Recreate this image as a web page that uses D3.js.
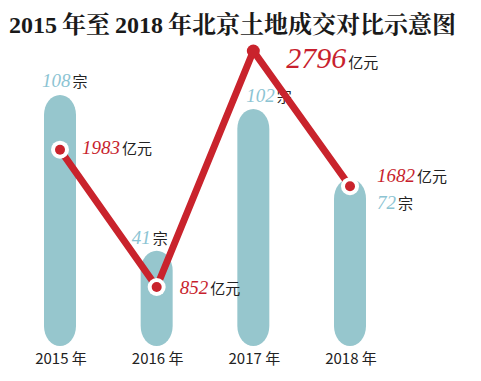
<!DOCTYPE html>
<html><head><meta charset="utf-8">
<script src="https://cdn.jsdelivr.net/npm/d3@7"></script>
<style>body{margin:0;background:#fff}svg{display:block}</style>
</head><body>
<svg id="c" width="481" height="381"></svg>
<script>
const years = ["2015", "2016", "2017", "2018"];
const yearLabels = ["2015 年", "2016 年", "2017 年", "2018 年"];
const counts = [108, 41, 102, 72];          // 宗
const amounts = [1983, 852, 2796, 1682];    // 亿元
const title = "2015年至2018年北京土地成交对比示意图";

// label placement (layout only)
const countOff = [[-18, -8], [-25, -7], [-7, -7], [27, 30]];
const amtOff = [[22, 4], [23, 7], [33, 17], [27, -4]];
const amtSize = [19, 19, 30, 19];

const svg = d3.select("#c");
const x = d3.scalePoint().domain(years).range([60, 350]);
const yc = d3.scaleLinear().domain([0, 108]).range([346, 95]);
const ya = d3.scaleLinear().domain([852, 2796]).range([287, 51]);
const barW = 32, base = 346;
const serif = "'Liberation Serif','DejaVu Serif',serif";
const cjk = "'Noto Sans CJK SC','Noto Sans',sans-serif";
const blue = "#96c6cd", red = "#c9232c";

// title
const t = svg.append("text").attr("x", 9).attr("y", 33)
  .attr("font-weight", "bold").attr("font-size", 24).attr("fill", "#1a1a1a");
title.split(/(\d+)/).filter(s => s).forEach((s, k) => {
  const isNum = /\d/.test(s);
  t.append("tspan").text(s)
   .attr("font-family", isNum ? serif : "'Noto Serif CJK SC','Noto Sans CJK SC',serif")
   .attr("dx", k === 0 ? 0 : 5);
});

// bars (pill shapes)
svg.append("g").selectAll("rect").data(years).join("rect")
  .attr("x", d => x(d) - barW / 2)
  .attr("y", (d, i) => yc(counts[i]))
  .attr("width", barW)
  .attr("height", (d, i) => base - yc(counts[i]))
  .attr("rx", barW / 2).attr("ry", 20)
  .attr("fill", blue);

// year labels
svg.append("g").selectAll("text").data(years).join("text")
  .attr("x", d => x(d) + 1).attr("y", 364)
  .attr("text-anchor", "middle")
  .attr("font-family", cjk).attr("font-size", 15).attr("fill", "#222")
  .text((d, i) => yearLabels[i]);

// count labels
const cl = svg.append("g").selectAll("text").data(years).join("text")
  .attr("x", (d, i) => x(d) + countOff[i][0])
  .attr("y", (d, i) => yc(counts[i]) + countOff[i][1]);
cl.append("tspan").text((d, i) => counts[i])
  .attr("font-family", serif).attr("font-style", "italic").attr("font-size", 19).attr("fill", "#8cc4d3");
cl.append("tspan").text("宗").attr("dx", 2)
  .attr("font-family", cjk).attr("font-size", 15).attr("fill", "#222");

// line
const line = d3.line().x(d => x(d)).y((d, i) => ya(amounts[i]));
svg.append("path").datum(years).attr("d", line)
  .attr("fill", "none").attr("stroke", red).attr("stroke-width", 7)
  .attr("stroke-linejoin", "round");

// markers
const mk = svg.append("g").selectAll("g").data(years).join("g")
  .attr("transform", (d, i) => `translate(${x(d)},${ya(amounts[i])})`);
mk.filter((d, i) => i !== 2).append("circle").attr("r", 9).attr("fill", "#fff");
mk.append("circle").attr("r", (d, i) => i === 2 ? 6.5 : 5).attr("fill", red);

// amount labels
const al = svg.append("g").selectAll("text").data(years).join("text")
  .attr("x", (d, i) => x(d) + amtOff[i][0])
  .attr("y", (d, i) => ya(amounts[i]) + amtOff[i][1]);
al.append("tspan").text((d, i) => amounts[i])
  .attr("font-family", serif).attr("font-style", "italic")
  .attr("font-size", (d, i) => amtSize[i]).attr("fill", "#c81f2e");
al.append("tspan").text("亿元").attr("dx", 2)
  .attr("font-family", cjk).attr("font-size", 15).attr("fill", "#222");
</script>
</body></html>
